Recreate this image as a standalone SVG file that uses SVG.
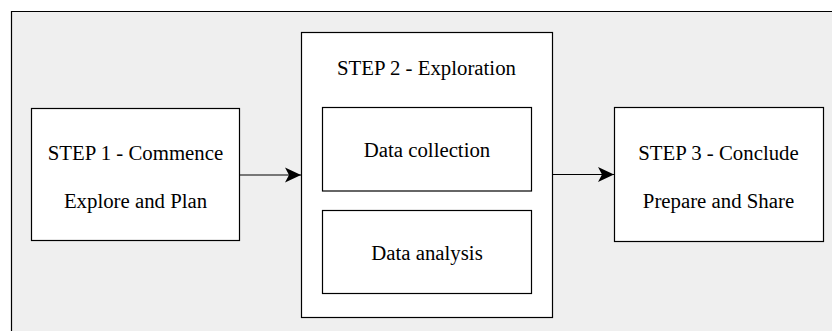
<svg xmlns="http://www.w3.org/2000/svg" width="832" height="331" viewBox="0 0 832 331">
  <style>
    .panel { fill: #efefef; stroke: none; }
    .frame { fill: none; stroke: #000; stroke-width: 1.2; }
    .box { fill: #fff; stroke: #000; stroke-width: 1.2; }
    .label { font-family: 'Liberation Serif', 'Times New Roman', Times, serif; font-size: 20.8px; fill: #000; text-anchor: middle; }
    .edge { fill: none; stroke: #000; stroke-width: 1.2; }
  </style>
  <defs>
    <marker id="arrow" markerUnits="userSpaceOnUse" markerWidth="20" markerHeight="20" refX="16" refY="8" orient="auto">
      <path d="M16,8 L0,0.5 L4,8 L0,15.5 Z" fill="#000"/>
    </marker>
  </defs>

  <!-- background panel, open on the right and bottom -->
  <rect class="panel" x="11.5" y="11.5" width="830" height="330"/>
  <path class="frame" d="M840,11.5 L11.5,11.5 L11.5,340"/>

  <g id="step1">
    <rect class="box" x="31.5" y="108.5" width="208" height="132"/>
    <text class="label" x="135.5" y="160">STEP 1 - Commence</text>
    <text class="label" x="135.5" y="208">Explore and Plan</text>
  </g>

  <g id="step2">
    <rect class="box" x="301.5" y="32.5" width="251" height="285"/>
    <text class="label" x="426.5" y="75">STEP 2 - Exploration</text>
  </g>

  <g id="data-collection">
    <rect class="box" x="322.5" y="107.5" width="209" height="83.5"/>
    <text class="label" x="427" y="157">Data collection</text>
  </g>

  <g id="data-analysis">
    <rect class="box" x="322.5" y="210.5" width="209" height="83"/>
    <text class="label" x="427" y="260">Data analysis</text>
  </g>

  <g id="step3">
    <rect class="box" x="614.5" y="107.5" width="209" height="134"/>
    <text class="label" x="718.5" y="160">STEP 3 - Conclude</text>
    <text class="label" x="718.5" y="208">Prepare and Share</text>
  </g>

  <g id="connectors">
    <path class="edge" d="M239.5,175 L301,175" marker-end="url(#arrow)"/>
    <path class="edge" d="M552.5,174.5 L614,174.5" marker-end="url(#arrow)"/>
  </g>
</svg>
